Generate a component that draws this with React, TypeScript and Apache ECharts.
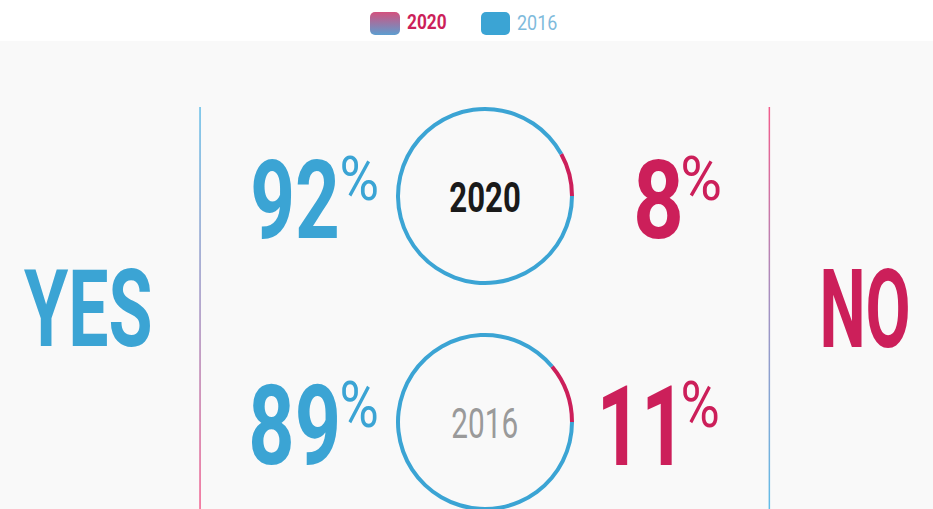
import React, { useEffect, useRef } from 'react';
import * as echarts from 'echarts';

// ---- data ----
const years = ['2020', '2016'];
const yesShare = [92, 89];
const noShare = [8, 11];
const answers = ['YES', 'NO'];

// ---- styles ----
const BLUE = '#3ba4d4';
const RED = '#cc1f5a';
const FONT = 'Roboto';

let measureCtx: CanvasRenderingContext2D | null = null;
function getCtx() {
  if (!measureCtx) measureCtx = document.createElement('canvas').getContext('2d');
  return measureCtx!;
}

// Fit a text's ink into a box [left, top, right, bottom] by font size + horizontal scale
function fitText(text: string, box: number[], fill: string, weight: string | number = 'bold', z = 5) {
  const [l, t, r, b] = box;
  const ctx = getCtx();
  ctx.textAlign = 'left';
  ctx.textBaseline = 'alphabetic';
  ctx.font = `${weight} 100px ${FONT}`;
  const m0 = ctx.measureText(text);
  const h0 = m0.actualBoundingBoxAscent + m0.actualBoundingBoxDescent;
  const size = (100 * (b - t)) / h0;
  ctx.font = `${weight} ${size}px ${FONT}`;
  const m = ctx.measureText(text);
  const inkW = m.actualBoundingBoxLeft + m.actualBoundingBoxRight;
  const sx = (r - l) / inkW;
  const x = l + sx * m.actualBoundingBoxLeft;
  const baseline = t + m.actualBoundingBoxAscent;
  const fa = (m as any).fontBoundingBoxAscent ?? size * 0.928;
  const fd = (m as any).fontBoundingBoxDescent ?? size * 0.244;
  const y = baseline - (fa - fd) / 2;
  return {
    type: 'text',
    x,
    y,
    scaleX: sx,
    z,
    silent: true,
    style: {
      text,
      fill,
      fontSize: size,
      fontWeight: weight,
      fontFamily: FONT,
      textAlign: 'left',
      textVerticalAlign: 'middle',
      verticalAlign: 'middle',
    },
  };
}

export default function App() {
  const ref = useRef<HTMLDivElement>(null);

  useEffect(() => {
    document.body.style.margin = '0';
    const chart = echarts.init(ref.current!, null, { renderer: 'svg' });

    const centersY = [196, 422];
    const numBoxes = [
      { yes: [253, 158, 337, 239], yesPct: [342, 155, 377, 200], no: [637, 158, 680, 239], noPct: [683, 155, 720, 200], year: [450, 182, 520, 213] },
      { yes: [252, 383, 337, 465], yesPct: [342, 380, 377, 427], no: [603, 385, 672, 465], noPct: [683, 380, 718, 427], year: [452, 408, 517, 439] },
    ];

    const graphics: any[] = [
      { type: 'rect', z: 0, silent: true, shape: { x: 0, y: 41, width: 933, height: 470 }, style: { fill: '#f9f9f9' } },
      {
        type: 'rect', z: 1, silent: true,
        shape: { x: 199.3, y: 107, width: 1.5, height: 402 },
        style: { fill: new echarts.graphic.LinearGradient(0, 0, 0, 1, [{ offset: 0, color: '#62bde8' }, { offset: 0.5, color: '#a392c2' }, { offset: 1, color: '#f25c8c' }]) },
      },
      {
        type: 'rect', z: 1, silent: true,
        shape: { x: 768.6, y: 107, width: 1.5, height: 402 },
        style: { fill: new echarts.graphic.LinearGradient(0, 0, 0, 1, [{ offset: 0, color: '#f25c8c' }, { offset: 0.5, color: '#a392c2' }, { offset: 1, color: '#62bde8' }]) },
      },
      // legend
      {
        type: 'rect', z: 1, silent: true,
        shape: { x: 370, y: 12, width: 30, height: 23, r: 5 },
        style: { fill: new echarts.graphic.LinearGradient(0, 0, 0, 1, [{ offset: 0, color: '#d3517e' }, { offset: 1, color: '#5d9ed0' }]) },
      },
      { type: 'rect', z: 1, silent: true, shape: { x: 481, y: 12, width: 29, height: 23, r: 5 }, style: { fill: BLUE } },
      fitText(years[0], [407, 15, 446, 30], RED, 'bold'),
      fitText(years[1], [517, 15, 557, 30], '#7fbbdc', 'normal'),
      // YES / NO
      fitText(answers[0], [24, 268, 150, 348], BLUE, 'bold'),
      fitText(answers[1], [823, 268, 908, 348], RED, 'bold'),
    ];

    years.forEach((yr, i) => {
      const bx = numBoxes[i];
      graphics.push(fitText(String(yesShare[i]), bx.yes, BLUE, 'bold'));
      graphics.push(fitText('%', bx.yesPct, BLUE, 'normal'));
      graphics.push(fitText(String(noShare[i]), bx.no, RED, 'bold'));
      graphics.push(fitText('%', bx.noPct, RED, 'normal'));
      graphics.push(fitText(yr, bx.year, i === 0 ? '#1a1a1a' : '#9a9a9a', i === 0 ? 'bold' : 'normal'));
    });

    chart.setOption({
      animation: false,
      backgroundColor: '#ffffff',
      graphic: { elements: graphics },
      series: years.map((yr, i) => ({
        type: 'pie',
        name: yr,
        center: [485, centersY[i]],
        radius: [85, 89],
        startAngle: 0,
        clockwise: false,
        silent: true,
        z: 3,
        label: { show: false },
        labelLine: { show: false },
        itemStyle: { borderWidth: 0 },
        emphasis: { disabled: true },
        data: [
          { name: answers[1], value: noShare[i], itemStyle: { color: RED } },
          { name: answers[0], value: yesShare[i], itemStyle: { color: BLUE } },
        ],
      })),
    });

    return () => chart.dispose();
  }, []);

  return <div ref={ref} style={{ width: 933, height: 509 }} />;
}
